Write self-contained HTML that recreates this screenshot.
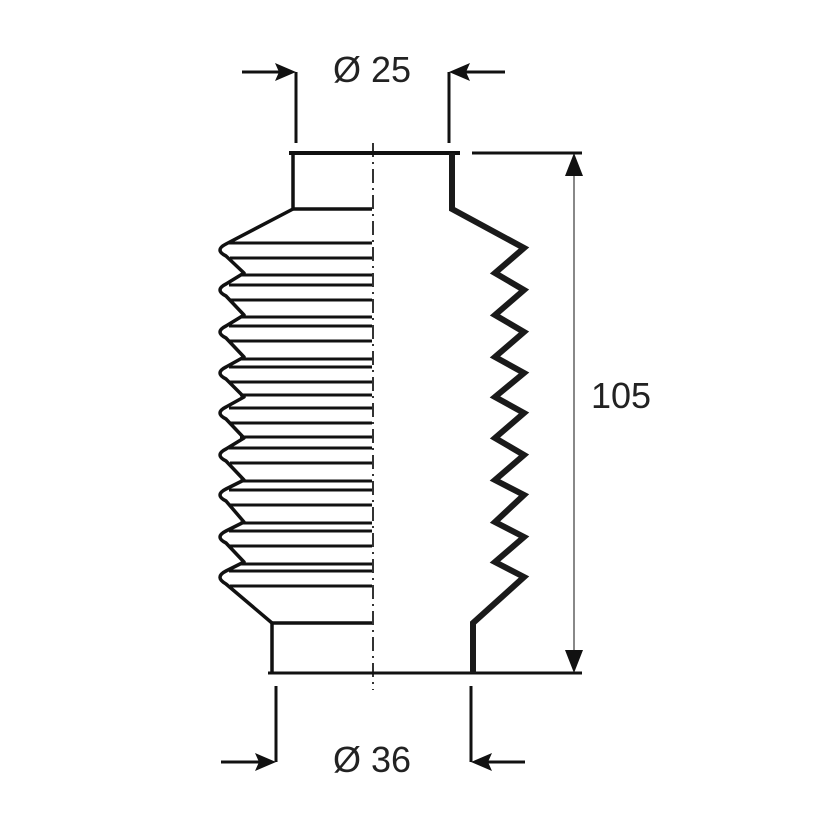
<!DOCTYPE html>
<html><head><meta charset="utf-8"><style>
html,body{margin:0;padding:0;background:#fff;}
svg{display:block;}
text{font-family:"Liberation Sans",Arial,sans-serif;fill:#222;}
</style></head><body>
<svg width="823" height="823" viewBox="0 0 823 823" xmlns="http://www.w3.org/2000/svg">
<rect width="823" height="823" fill="#fff"/>
<!-- centerline -->
<line x1="373" y1="143" x2="373" y2="690" stroke="#333" stroke-width="2" stroke-dasharray="14 5 2 5"/>
<!-- top / bottom lines -->
<line x1="289" y1="153" x2="460" y2="153" stroke="#111" stroke-width="4"/>
<line x1="472" y1="153" x2="582" y2="153" stroke="#111" stroke-width="3"/>
<line x1="268" y1="673" x2="582" y2="673" stroke="#111" stroke-width="3"/>
<!-- left collars -->
<path d="M293,153 L293,209 L372,209" fill="none" stroke="#111" stroke-width="3.5"/>
<path d="M272,673 L272,623 L372,623" fill="none" stroke="#111" stroke-width="3.5"/>
<!-- left profile -->
<path d="M293,209 L226,244 Q214,250 226,256 L244,273
 L226,284 Q214,290 226,296 L244,315
 L226,326 Q214,332 226,338 L244,357
 L226,367 Q214,373 226,379 L244,397
 L226,407 Q214,413 226,419 L244,438
 L226,449 Q214,455 226,461 L244,480
 L226,489 Q214,495 226,501 L244,522
 L226,531 Q214,537 226,543 L244,562
 L226,571 Q214,577 226,584 L272,623" fill="none" stroke="#111" stroke-width="3.5" stroke-linejoin="round"/>
<g stroke="#111" stroke-width="3">
<line x1="229" y1="243" x2="372" y2="243"/><line x1="230" y1="258" x2="372" y2="258"/>
<line x1="240" y1="275" x2="372" y2="275"/><line x1="229" y1="285" x2="372" y2="285"/><line x1="230" y1="300" x2="372" y2="300"/>
<line x1="240" y1="317" x2="372" y2="317"/><line x1="229" y1="326" x2="372" y2="326"/><line x1="230" y1="341" x2="372" y2="341"/>
<line x1="240" y1="359" x2="372" y2="359"/><line x1="229" y1="367" x2="372" y2="367"/><line x1="230" y1="382" x2="372" y2="382"/>
<line x1="240" y1="395" x2="372" y2="395"/><line x1="229" y1="408" x2="372" y2="408"/><line x1="230" y1="423" x2="372" y2="423"/>
<line x1="240" y1="437" x2="372" y2="437"/><line x1="229" y1="448" x2="372" y2="448"/><line x1="230" y1="463" x2="372" y2="463"/>
<line x1="240" y1="481" x2="372" y2="481"/><line x1="229" y1="490" x2="372" y2="490"/><line x1="230" y1="505" x2="372" y2="505"/>
<line x1="240" y1="523" x2="372" y2="523"/><line x1="229" y1="531" x2="372" y2="531"/><line x1="230" y1="546" x2="372" y2="546"/>
<line x1="240" y1="564" x2="372" y2="564"/><line x1="229" y1="571" x2="372" y2="571"/><line x1="230" y1="586" x2="372" y2="586"/>
</g>
<!-- right profile -->
<path d="M452,153 L452,209 L524,248 L495,273 L524,290 L495,315 L524,332 L495,357 L524,373 L495,397 L524,413 L495,438 L524,455 L495,480 L524,495 L495,522 L524,537 L495,562 L524,577 L473,623 L473,673" fill="none" stroke="#1a1a1a" stroke-width="6" stroke-linejoin="miter"/>
<!-- top dimension -->
<g stroke="#111" stroke-width="3" fill="none">
<line x1="296" y1="72" x2="296" y2="143"/><line x1="449" y1="72" x2="449" y2="143"/>
<line x1="242" y1="72" x2="280" y2="72"/><line x1="465" y1="72" x2="505" y2="72"/>
<line x1="276" y1="762" x2="276" y2="686"/><line x1="471" y1="762" x2="471" y2="686"/>
<line x1="221" y1="762" x2="260" y2="762"/><line x1="487" y1="762" x2="525" y2="762"/>
</g>
<g fill="#111">
<polygon points="296,72 275,63 279,72 275,81"/>
<polygon points="449,72 470,63 466,72 470,81"/>
<polygon points="276,762 255,753 259,762 255,771"/>
<polygon points="471,762 492,753 488,762 492,771"/>
</g>
<text x="372" y="82" font-size="36" text-anchor="middle">Ø 25</text>
<text x="372" y="772" font-size="36" text-anchor="middle">Ø 36</text>
<!-- vertical dimension -->
<line x1="574" y1="165" x2="574" y2="661" stroke="#888" stroke-width="2"/>
<polygon points="574,153 565,176 583,176" fill="#111"/>
<polygon points="574,673 565,650 583,650" fill="#111"/>
<text x="621" y="408" font-size="36" text-anchor="middle">105</text>
</svg>
</body></html>
